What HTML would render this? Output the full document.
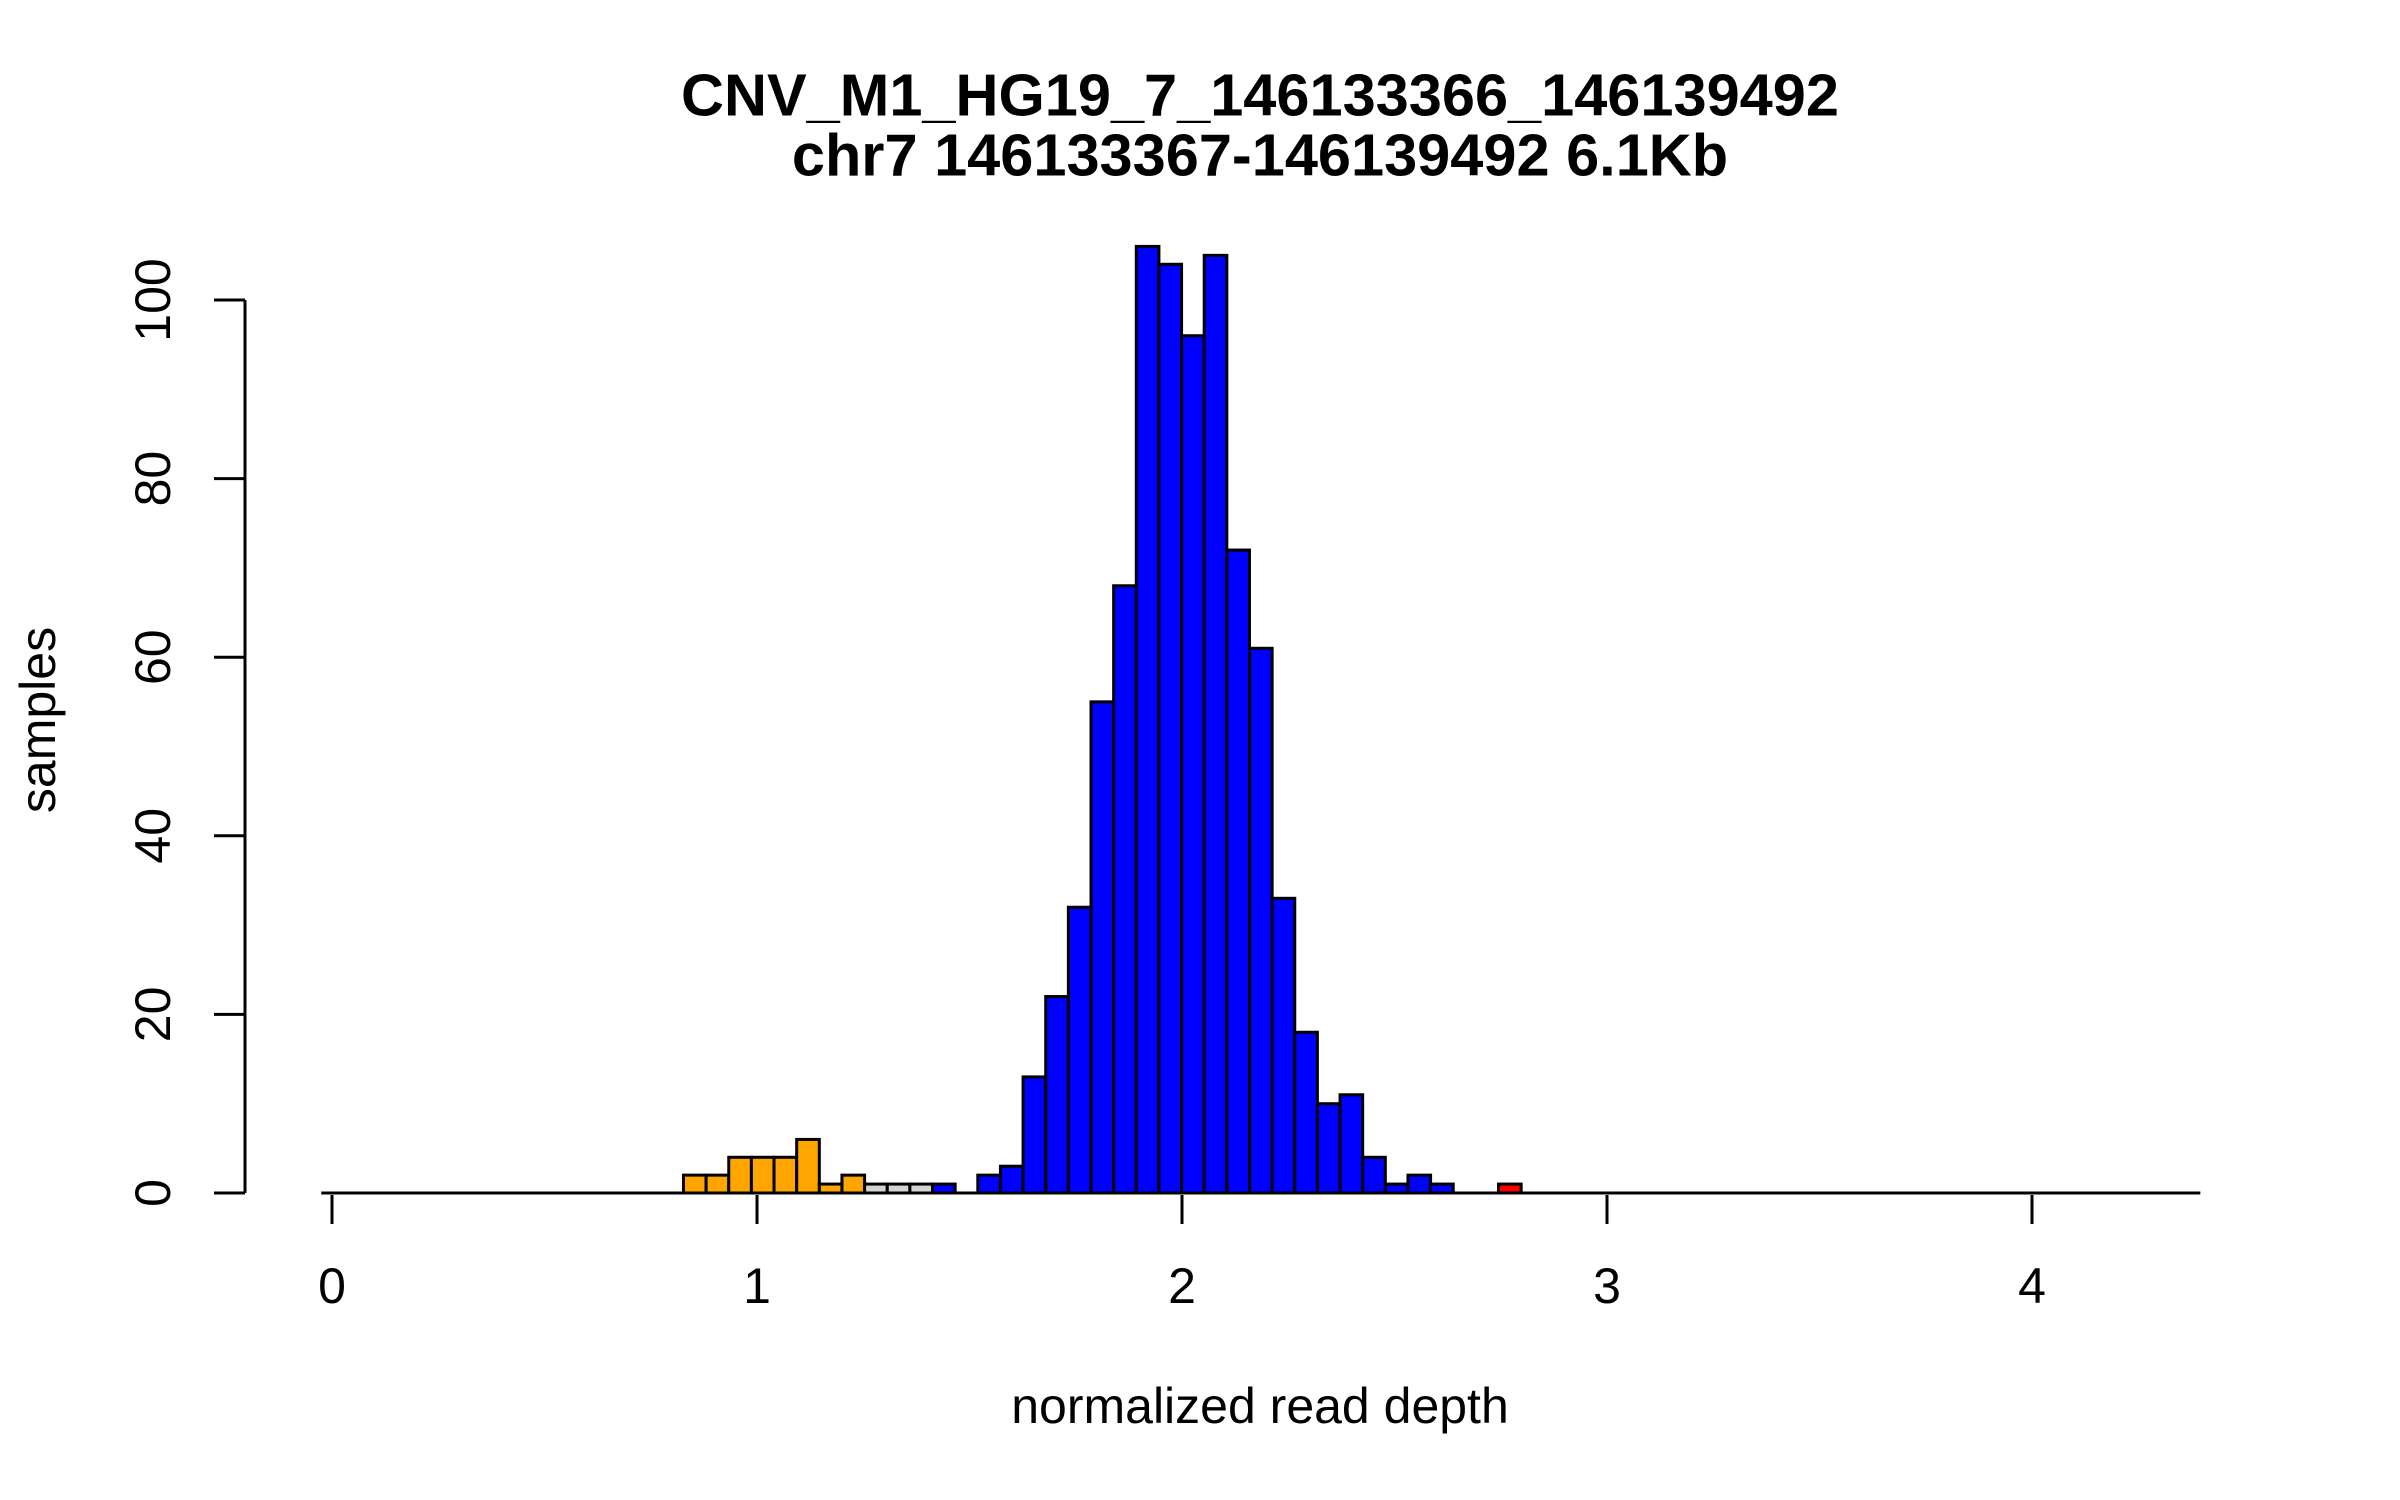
<!DOCTYPE html>
<html><head><meta charset="utf-8"><style>
html,body{margin:0;padding:0;background:#fff;}
svg{display:block;}
text{font-family:"Liberation Sans",sans-serif;fill:#000;}
</style></head><body>
<svg id="chart" width="2400" height="1500" viewBox="0 0 2400 1500" xmlns="http://www.w3.org/2000/svg">
<text x="1260" y="95" font-size="59.5" font-weight="bold" text-anchor="middle" dominant-baseline="central">CNV_M1_HG19_7_146133366_146139492</text>
<text x="1260" y="155" font-size="59.5" font-weight="bold" text-anchor="middle" dominant-baseline="central">chr7 146133367-146139492 6.1Kb</text>
<text x="1260" y="1406" font-size="50" text-anchor="middle" dominant-baseline="central">normalized read depth</text>
<text x="38" y="720" font-size="50" text-anchor="middle" dominant-baseline="central" transform="rotate(-90 38 720)">samples</text>
<g id="bars"></g>
<g id="axes"></g>
</svg>
<script>
// data
const binStart = -0.0253;
const binWidth = 0.05327;
const leadingEmptyBins = 16;
const counts = [2,2,4,4,4,6,1,2,1,1,1,1,0,2,3,13,22,32,55,68,106,104,96,105,72,61,33,18,10,11,4,1,2,1,0,0,1];
const binColors = ["orange","orange","orange","orange","orange","orange","orange","orange","lightgray","lightgray","lightgray","blue","blue","blue","blue","blue","blue","blue","blue","blue","blue","blue","blue","blue","blue","blue","blue","blue","blue","blue","blue","blue","blue","blue","blue","blue","red"];
const totalBins = 83;
const xTicks = [0,1,2,3,4];
const yTicks = [0,20,40,60,80,100];

const NS = "http://www.w3.org/2000/svg";
const X0 = 332, XU = 425, Y0 = 1193, YU = 8.93;
function xs(v){ return X0 + v * XU; }
function ys(v){ return Y0 - v * YU; }
function mk(tag, attrs, parent){
  const e = document.createElementNS(NS, tag);
  for (const k in attrs) e.setAttribute(k, attrs[k]);
  parent.appendChild(e);
  return e;
}
const bars = document.getElementById('bars');
const axes = document.getElementById('axes');

const bl = mk('line', {x1: xs(binStart), x2: xs(binStart + totalBins * binWidth), y1: ys(0), y2: ys(0), stroke: '#000', 'stroke-width': 3}, bars);



counts.forEach((c, i) => {
  const lo = binStart + (leadingEmptyBins + i) * binWidth;
  const hi = lo + binWidth;
  const r = mk('rect', {x: xs(lo), y: ys(c), width: xs(hi) - xs(lo), height: ys(0) - ys(c), fill: binColors[i], stroke: '#000', 'stroke-width': 3}, bars);
  
  
});

xTicks.forEach(t => {
  const l = mk('line', {x1: xs(t), x2: xs(t), y1: ys(0) + 2, y2: ys(0) + 31, stroke: '#000', 'stroke-width': 3}, axes);
  
  
  const tx = mk('text', {x: xs(t), y: 1286, 'font-size': 50, 'text-anchor': 'middle', 'dominant-baseline': 'central'}, axes);
  tx.textContent = String(t);
  
  
});

const YAX = 245;
const ya = mk('line', {x1: YAX, x2: YAX, y1: ys(yTicks[0]), y2: ys(yTicks[yTicks.length - 1]), stroke: '#000', 'stroke-width': 3}, axes);


yTicks.forEach(t => {
  const l = mk('line', {x1: YAX - 31, x2: YAX, y1: ys(t), y2: ys(t), stroke: '#000', 'stroke-width': 3}, axes);
  
  
  const tx = mk('text', {x: 153, y: ys(t), 'font-size': 50, 'text-anchor': 'middle', 'dominant-baseline': 'central', transform: 'rotate(-90 153 ' + ys(t) + ')'}, axes);
  tx.textContent = String(t);
  
  
});
</script>
</body></html>
